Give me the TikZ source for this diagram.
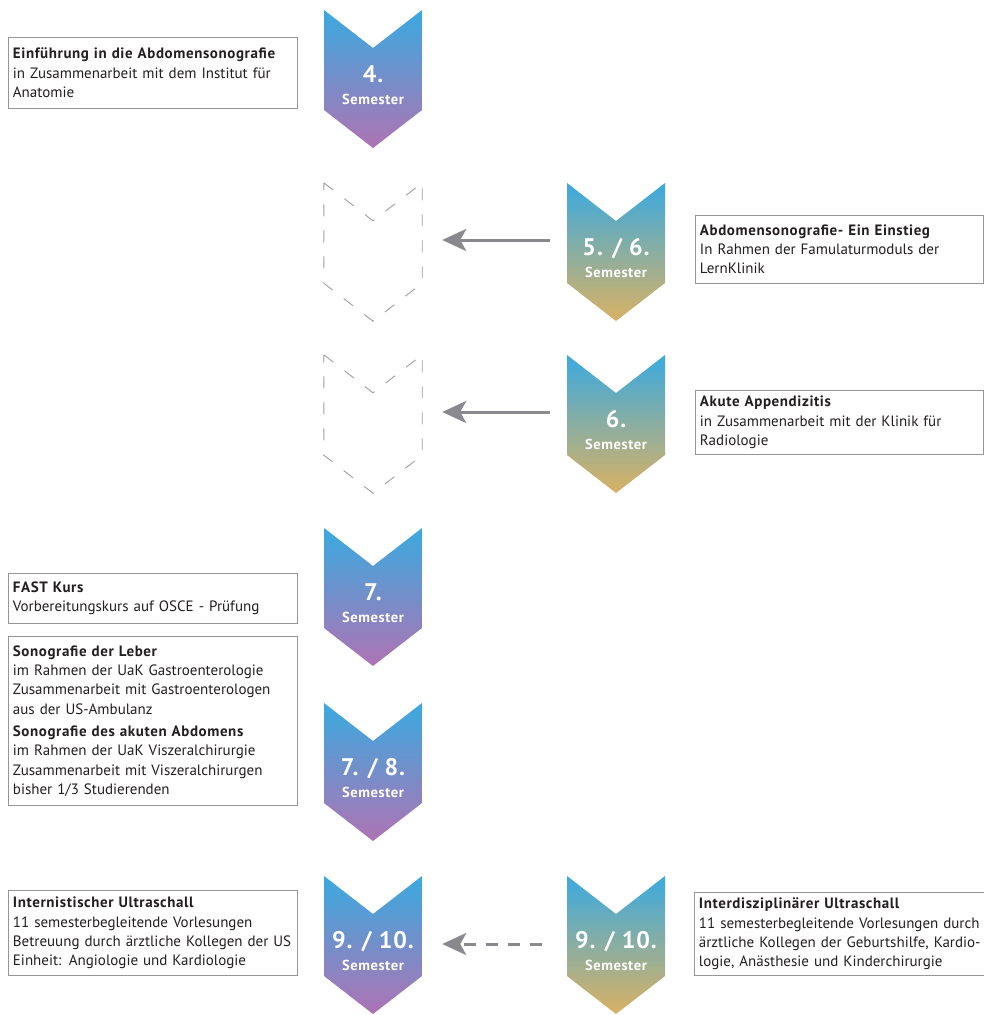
\documentclass[tikz,border=0pt]{standalone}
\usepackage{fontspec}
\setmainfont{PT Sans}
\newfontfamily\headfont[LetterSpace=4]{PT Sans}
\usetikzlibrary{arrows.meta}

\definecolor{SemBlue}{RGB}{58,170,224}
\definecolor{SemPink}{RGB}{185,110,175}
\definecolor{SemOrange}{RGB}{232,178,88}
\definecolor{BoxGray}{RGB}{150,150,150}
\definecolor{ArrowGray}{RGB}{138,138,142}
\definecolor{GhostGray}{RGB}{160,160,160}
\definecolor{InkText}{RGB}{35,31,32}

\newcommand{\coursehead}[1]{{\headfont\bfseries #1}}
\newcommand{\semnum}[1]{{\fontsize{24}{22}\selectfont #1}}

\begin{document}
\begin{tikzpicture}[x=1pt, y=-1pt,
    semchev/.style={minimum width=98pt, minimum height=150pt, inner sep=0pt,
        align=center, text=white, font=\headfont\bfseries\fontsize{14.5}{22}\selectfont,
        path picture={
            \shade[top color=SemBlue, bottom color=#1]
                (path picture bounding box.north west)
                -- ([yshift=-38pt]path picture bounding box.north)
                -- (path picture bounding box.north east)
                -- ([yshift=50pt]path picture bounding box.south east)
                -- ([yshift=12pt]path picture bounding box.south)
                -- ([yshift=50pt]path picture bounding box.south west) -- cycle;
        }},
    ghostchev/.style={minimum width=98pt, minimum height=150pt, inner sep=0pt},
    ghostline/.style={draw=GhostGray, line width=0.9pt, dash pattern=on 12pt off 14pt},
    infobox/.style={draw=BoxGray, line width=0.9pt, anchor=north west, align=left,
        text=InkText, inner xsep=4.5pt, inner ysep=4pt,
        font=\fontsize{15}{19.3}\selectfont},
    movearrow/.style={draw=ArrowGray, line width=3pt,
        -{Stealth[length=24pt, width=22pt, inset=6pt]}}]

    \path[use as bounding box, fill=white] (0,0) rectangle (983,1015);

    % Semester chevrons, left column
    \node[semchev=SemPink] (s4)   at (373,85)  {\semnum{4.}\\Semester};
    \node[semchev=SemPink] (s7)   at (373,603) {\semnum{7.}\\Semester};
    \node[semchev=SemPink] (s78)  at (373,778) {\semnum{7. / 8.}\\Semester};
    \node[semchev=SemPink] (s910) at (373,951) {\semnum{9. / 10.}\\Semester};

    % Semester chevrons, right column
    \node[semchev=SemOrange] (r56)  at (616,258) {\semnum{5. / 6.}\\Semester};
    \node[semchev=SemOrange] (r6)   at (616,430) {\semnum{6.}\\Semester};
    \node[semchev=SemOrange] (r910) at (616,951) {\semnum{9. / 10.}\\Semester};

    % Empty places in the left column
    \node[ghostchev] (g56) at (373,258) {};
    \node[ghostchev] (g6)  at (373,430) {};
    \foreach \g in {g56, g6} {
        \draw[ghostline] (\g.north west) -- ([yshift=-38pt]\g.north)
            -- (\g.north east) -- ([yshift=50pt]\g.south east)
            -- ([yshift=12pt]\g.south) -- ([yshift=50pt]\g.south west) -- cycle;
    }

    % Moves to the left column
    \draw[movearrow, shorten <=17pt, shorten >=20pt] ([yshift=18pt]r56.west) -- ([yshift=18pt]g56.east);
    \draw[movearrow, shorten <=17pt, shorten >=20pt] ([yshift=18pt]r6.west) -- ([yshift=18pt]g6.east);
    \draw[movearrow, dash pattern=on 12pt off 10pt, shorten <=25pt, shorten >=20pt]
        ([yshift=7pt]r910.west) -- ([yshift=7pt]s910.east);

    % Course descriptions
    \node[infobox, text width=280pt, minimum height=71pt] (einf) at (8,37)
        {\coursehead{Einführung in die Abdomensonografie}\\in Zusammenarbeit mit dem Institut für\\Anatomie};
    \node[infobox, text width=279pt, minimum height=68pt] (einst) at (695,215)
        {\coursehead{Abdomensonografie- Ein Einstieg}\\In Rahmen der Famulaturmoduls der\\LernKlinik};
    \node[infobox, text width=279pt, minimum height=64pt] (appx) at (695,390)
        {\coursehead{Akute Appendizitis}\\in Zusammenarbeit mit der Klinik für\\Radiologie};
    \node[infobox, text width=280pt, minimum height=50pt] (fast) at (8,573)
        {\coursehead{FAST Kurs}\\Vorbereitungskurs auf OSCE - Prüfung};
    \node[infobox, text width=280pt, minimum height=169pt] (leber) at (8,636)
        {\coursehead{Sonografie der Leber}\\im Rahmen der UaK Gastroenterologie\\Zusammenarbeit mit Gastroenterologen\\aus der US-Ambulanz\\[3pt]
         \coursehead{Sonografie des akuten Abdomens}\\im Rahmen der UaK Viszeralchirurgie\\Zusammenarbeit mit Viszeralchirurgen\\bisher 1/3 Studierenden};
    \node[infobox, text width=280pt, minimum height=85pt] (intern) at (8,890)
        {\coursehead{Internistischer Ultraschall}\\11 semesterbegleitende Vorlesungen\\Betreuung durch ärztliche Kollegen der US\\Einheit: Angiologie und Kardiologie};
    \node[infobox, text width=310pt, minimum height=83pt] (inter) at (694,892)
        {\coursehead{Interdisziplinärer Ultraschall}\\11 semesterbegleitende Vorlesungen durch\\ärztliche Kollegen der Geburtshilfe, Kardio-\\logie, Anästhesie und Kinderchirurgie};
\end{tikzpicture}
\end{document}
